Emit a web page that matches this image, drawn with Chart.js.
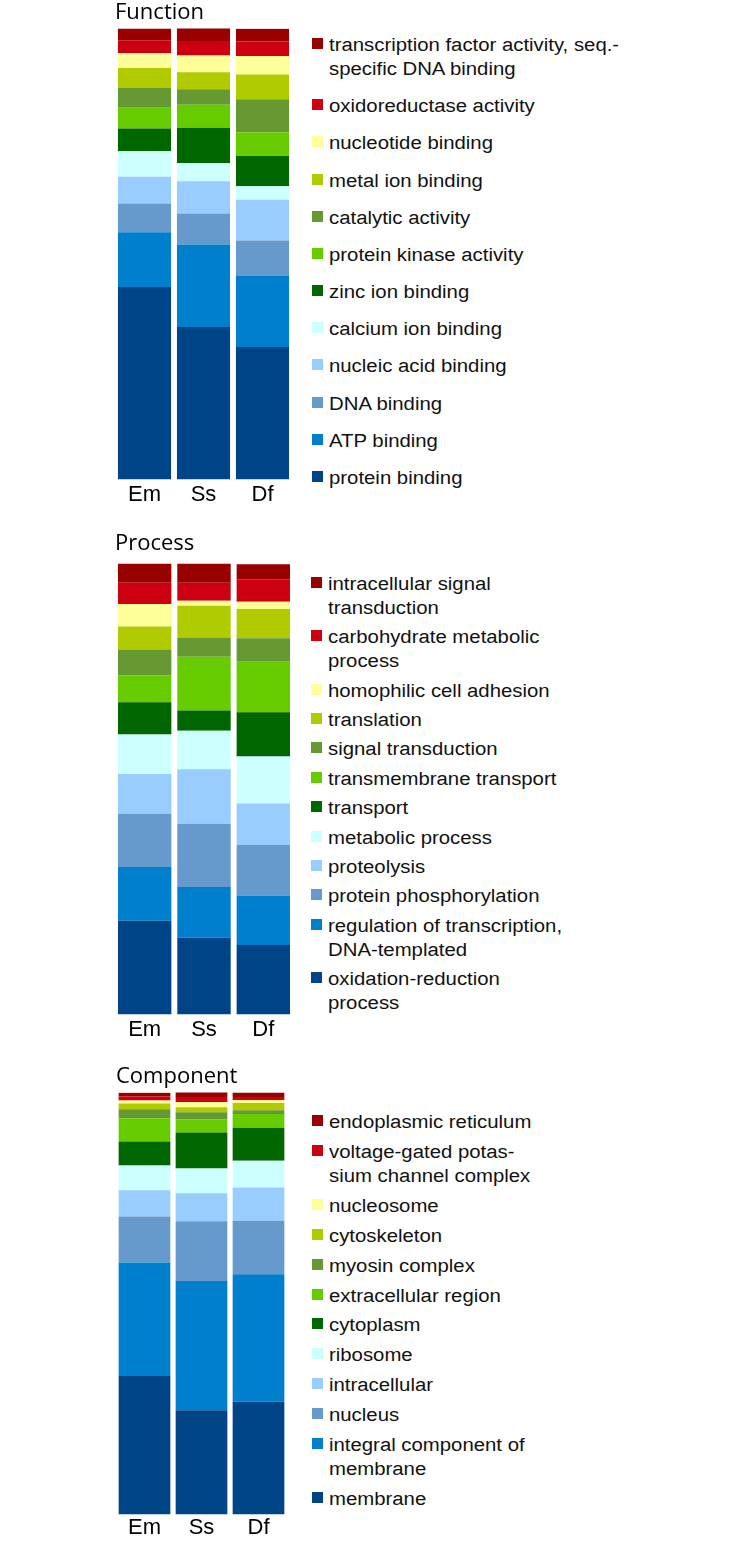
<!DOCTYPE html>
<html>
<head>
<meta charset="utf-8">
<script src="https://cdn.jsdelivr.net/npm/chart.js@4.4.1/dist/chart.umd.min.js"></script>
<style>
  body { margin: 0; background: #fff; width: 733px; height: 1541px; position: relative; overflow: hidden; }
  canvas { position: absolute; left: 0; }
  .legend { position: absolute; display: flex; flex-direction: column; justify-content: space-between; }
  .item { display: flex; align-items: flex-start; }
  .box { width: 11px; height: 11px; margin-top: 5px; flex: none; }
  .txt { margin-left: 6px; font: 18px "Liberation Sans", Arial, sans-serif; line-height: 24px; color: #111;
         white-space: pre; transform: scaleX(1.13); transform-origin: left center; }
</style>
</head>
<body>
<canvas id="function-chart" width="300" height="510" style="top:0px"></canvas>
<canvas id="process-chart" width="300" height="514" style="top:531px"></canvas>
<canvas id="component-chart" width="300" height="477" style="top:1064px"></canvas>
<div class="legend" id="function-legend" style="left:312px; top:33px; height:457px"></div>
<div class="legend" id="process-legend" style="left:311px; top:572px; height:443px"></div>
<div class="legend" id="component-legend" style="left:312px; top:1110px; height:401px"></div>
<script>
// sample groups (bars)
const groups = ['Em', 'Ss', 'Df'];

// colours from bottom of the stack to the top
const colors = ['#004488', '#0080CC', '#6699CC', '#99CCFF', '#CCFFFF', '#006600',
                '#66CC00', '#669933', '#B0CC00', '#FFFF99', '#CC0010', '#990000'];

// Function terms, bottom -> top, percent of annotated genes
const functionLabels = ['protein binding', 'ATP binding', 'DNA binding', 'nucleic acid binding',
  'calcium ion binding', 'zinc ion binding', 'protein kinase activity', 'catalytic activity',
  'metal ion binding', 'nucleotide binding', 'oxidoreductase activity',
  'transcription factor activity, seq.-\nspecific DNA binding'];
const functionEm = [42.7, 12.1, 6.4, 5.9, 5.7, 5.0, 4.6, 4.4, 4.4, 3.3, 2.9, 2.6];
const functionSs = [33.8, 18.3, 6.9, 7.1, 4.0, 7.9, 5.1, 3.4, 3.8, 3.7, 3.2, 3.0];
const functionDf = [29.4, 15.7, 7.9, 9.0, 3.0, 6.7, 5.3, 7.3, 5.5, 4.1, 3.2, 2.8];

// Process terms
const processLabels = ['oxidation-reduction\nprocess', 'regulation of transcription,\nDNA-templated',
  'protein phosphorylation', 'proteolysis', 'metabolic process', 'transport',
  'transmembrane transport', 'signal transduction', 'translation', 'homophilic cell adhesion',
  'carbohydrate metabolic\nprocess', 'intracellular signal\ntransduction'];
const processEm = [20.8, 11.9, 11.8, 8.8, 8.8, 7.1, 6.0, 5.7, 5.1, 5.0, 4.7, 4.3];
const processSs = [17.1, 11.2, 14.0, 12.1, 8.5, 4.5, 11.9, 4.3, 7.0, 1.1, 4.0, 4.3];
const processDf = [15.4, 11.0, 11.2, 9.2, 10.4, 9.8, 11.2, 5.2, 6.5, 1.6, 5.0, 3.3];

// Component terms
const componentLabels = ['membrane', 'integral component of\nmembrane', 'nucleus', 'intracellular',
  'ribosome', 'cytoplasm', 'extracellular region', 'myosin complex', 'cytoskeleton',
  'nucleosome', 'voltage-gated potas-\nsium channel complex', 'endoplasmic reticulum'];
const componentEm = [32.8, 26.9, 10.9, 6.2, 5.9, 5.7, 5.5, 2.1, 1.4, 0.7, 0.9, 0.9];
const componentSs = [24.7, 30.6, 14.2, 6.6, 5.9, 8.5, 3.1, 1.7, 1.2, 1.2, 1.2, 1.2];
const componentDf = [26.8, 30.1, 12.7, 7.9, 6.3, 7.8, 3.3, 0.9, 1.7, 0.7, 0.7, 1.1];

// Build one stacked 100% bar chart
function makeChart(id, title, labels, em, ss, df, opts) {
    const datasets = labels.map((label, i) => ({
        label: label,
        data: [em[i], ss[i], df[i]],
        backgroundColor: colors[i],
        borderWidth: 0,
        barPercentage: opts.barPct,
        categoryPercentage: 1
    }));

    new Chart(document.getElementById(id), {
        type: 'bar',
        data: { labels: groups, datasets: datasets },
        options: {
            responsive: false,
            animation: false,
            devicePixelRatio: 1,
            layout: { padding: { left: opts.left, right: opts.right, top: 0, bottom: 0 } },
            plugins: {
                legend: { display: false },
                tooltip: { enabled: false },
                title: {
                    display: true,
                    text: title,
                    align: 'start',
                    color: '#000',
                    font: { family: '"Open Sans", sans-serif', size: 22, weight: 'normal' },
                    padding: { top: 0, bottom: opts.titleGap }
                }
            },
            scales: {
                x: {
                    stacked: true,
                    grid: { display: false, drawTicks: false },
                    border: { display: false },
                    ticks: {
                        color: '#000',
                        padding: opts.tickPad,
                        font: { family: '"Liberation Sans", Arial, sans-serif', size: 22 }
                    }
                },
                y: { stacked: true, display: false, min: 0, max: 100 }
            }
        }
    });

    // legend: top of the stack first
    const legend = document.getElementById(id.replace('chart', 'legend'));
    for (let i = labels.length - 1; i >= 0; i--) {
        const item = document.createElement('div');
        item.className = 'item';
        const box = document.createElement('span');
        box.className = 'box';
        box.style.background = colors[i];
        const txt = document.createElement('span');
        txt.className = 'txt';
        txt.textContent = labels[i];
        item.appendChild(box);
        item.appendChild(txt);
        legend.appendChild(item);
    }
}

makeChart('function-chart', 'Function', functionLabels, functionEm, functionSs, functionDf,
    { left: 115, right: 8, barPct: 0.9, titleGap: 2, tickPad: 2 });
makeChart('process-chart', 'Process', processLabels, processEm, processSs, processDf,
    { left: 115, right: 7, barPct: 0.9, titleGap: 6, tickPad: 2 });
makeChart('component-chart', 'Component', componentLabels, componentEm, componentSs, componentDf,
    { left: 116, right: 13, barPct: 0.907, titleGap: 2, tickPad: 0 });
</script>
</body>
</html>
